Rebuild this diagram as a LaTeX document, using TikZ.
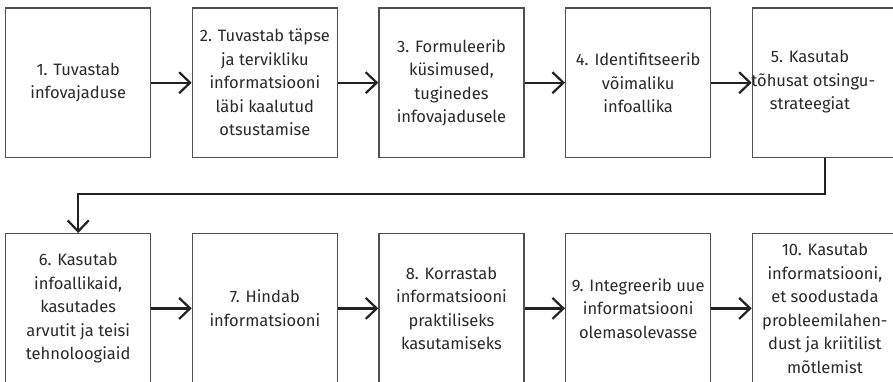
\documentclass[tikz,border=0pt]{standalone}
\usepackage{fontspec}
\setmainfont{Fira Sans}
\usetikzlibrary{arrows.meta}
\definecolor{boxgray}{HTML}{505050}
\definecolor{arrowdark}{HTML}{222222}
\definecolor{txt}{HTML}{2a2a2a}
\tikzset{
  stepbox/.style={draw=boxgray, line width=1.4pt, minimum width=145pt, minimum height=149.4pt,
    inner sep=0pt, anchor=north west, align=center, text=txt,
    font=\fontsize{16.5}{23.5}\selectfont},
  boxtext/.style={align=center, text=txt, inner sep=0pt, font=\fontsize{16.5}{23.5}\selectfont},
  conn/.style={draw=arrowdark, line width=2.2pt, -{Straight Barb[length=11pt,width=21pt,line width=2.2pt]}}
}
\begin{document}
\begin{tikzpicture}[x=1pt,y=-1pt]
\useasboundingbox (0,0) rectangle (893,381);
\clip (0,0) rectangle (893,381);
\fill[white] (0,0) rectangle (893,381);
% row 1
\node[stepbox] (b1) at (5,7.3) {1. Tuvastab\\infovajaduse};
\node[stepbox] (b2) at (191.7,7.3) {2. Tuvastab täpse\\ja tervikliku\\informatsiooni\\läbi kaalutud\\otsustamise};
\node[stepbox] (b3) at (378.3,7.3) {3. Formuleerib\\küsimused,\\tuginedes\\infovajadusele};
\node[stepbox] (b4) at (565,7.3) {4. Identifitseerib\\võimaliku\\infoallika};
\node[stepbox] (b5) at (751.7,7.3) {};
\node[boxtext] (t5) at (810,82) {5. Kasutab\\tõhusat otsingu\rlap{-}\\strateegiat};
% row 2
\node[stepbox] (b6) at (5,233) {6. Kasutab\\infoallikaid,\\kasutades\\arvutit ja teisi\\tehnoloogiaid};
\node[stepbox] (b7) at (191.7,233) {7. Hindab\\informatsiooni};
\node[stepbox] (b8) at (378.3,233) {8. Korrastab\\informatsiooni\\praktiliseks\\kasutamiseks};
\node[stepbox] (b9) at (565,233) {9. Integreerib uue\\informatsiooni\\olemasolevasse};
\node[stepbox] (b10) at (751.7,233) {10. Kasutab\\informatsiooni,\\et soodustada\\probleemilahen-\\dust ja kriitilist\\mõtlemist};
% connectors
\draw[conn] (b1.east) -- (b2.west);
\draw[conn] (b2.east) -- (b3.west);
\draw[conn] (b3.east) -- (b4.west);
\draw[conn] (b4.east) -- (b5.west);
\coordinate (c1) at (b5.south |- 0,194);
\coordinate (c2) at (b6.north |- 0,194);
\draw[conn] (b5.south) -- (c1) -- (c2) -- (b6.north);
\draw[conn] (b6.east) -- (b7.west);
\draw[conn] (b7.east) -- (b8.west);
\draw[conn] (b8.east) -- (b9.west);
\draw[conn] (b9.east) -- (b10.west);
\end{tikzpicture}
\end{document}
